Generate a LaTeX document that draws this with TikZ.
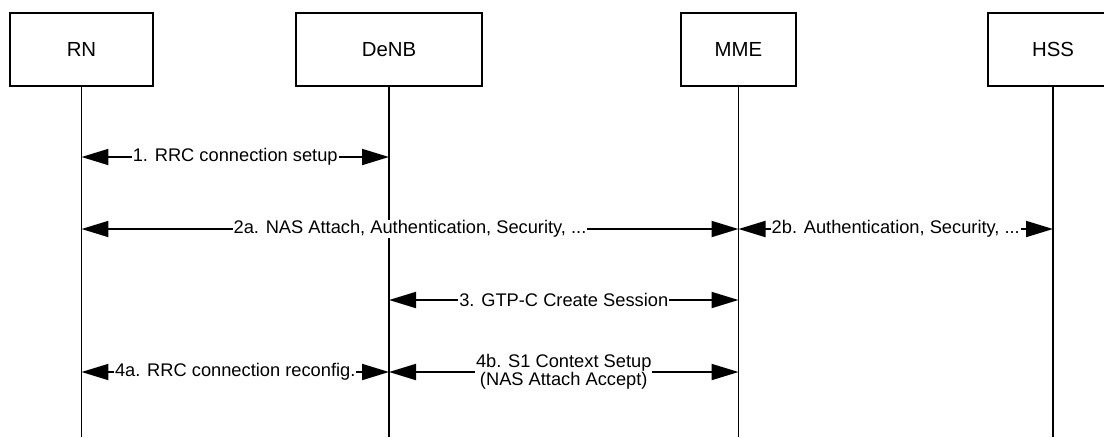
\documentclass[tikz,border=0pt]{standalone}
\usepackage{fontspec}
\setmainfont{Liberation Sans}
\usepackage{tikz}
\usetikzlibrary{arrows.meta}

\begin{document}
\begin{tikzpicture}
  [
    x=0.02cm, y=-0.02cm,
    entity/.style={
       draw=black,
       line width=0.8pt,
       minimum height=1.46cm,
       inner sep=0pt,
       font=\fontsize{11.6}{12}\selectfont
    },
    life/.style={
       draw=black,
       line width=0.6pt
    },
    msg/.style={
       draw=black,
       line width=1.1pt,
       {Triangle[length=0.54cm,width=0.32cm]}-{Triangle[length=0.54cm,width=0.32cm]}
    },
    lbl/.style={
       fill=white,
       inner sep=0.5pt,
       align=center,
       font=\fontsize{10.4}{10.2}\selectfont
    }
  ]
  \useasboundingbox (0,0) rectangle (1104,437);

  % entities
  \node (rn)   at (  81.5,49.5) [entity, minimum width=2.86cm] {RN};
  \node (denb) at ( 389.0,49.5) [entity, minimum width=3.72cm] {DeNB};
  \node (mme)  at ( 738.5,49.5) [entity, minimum width=2.30cm] {MME};
  \node (hss)  at (1053.0,49.5) [entity, minimum width=2.60cm] {HSS};

  % lifelines
  \coordinate (bottom) at (0,437);
  \draw [life] (rn.south)   -- (rn.south |- bottom);
  \draw [life] (denb.south) -- (denb.south |- bottom);
  \draw [life] (mme.south)  -- (mme.south |- bottom);
  \draw [life] (hss.south)  -- (hss.south |- bottom);

  % message rows
  \coordinate (r1) at (0,157);
  \coordinate (r2) at (0,229);
  \coordinate (r3) at (0,300);
  \coordinate (r4) at (0,372);

  \draw [msg] (rn |- r1) -- (denb |- r1) node [lbl, midway] {1. RRC connection setup};
  \draw [msg] (rn |- r2) -- (mme |- r2) node [lbl, midway] {2a. NAS Attach, Authentication, Security, ...};
  \draw [msg] (mme |- r2) -- (hss |- r2) node [lbl, midway] {2b. Authentication, Security, ...};
  \draw [msg] (denb |- r3) -- (mme |- r3) node [lbl, midway] {3. GTP-C Create Session};
  \draw [msg] (rn |- r4) -- (denb |- r4) node [lbl, midway] {4a. RRC connection reconfig.};
  \draw [msg] (denb |- r4) -- (mme |- r4) node [lbl, midway] {4b. S1 Context Setup\\(NAS Attach Accept)};
\end{tikzpicture}
\end{document}
